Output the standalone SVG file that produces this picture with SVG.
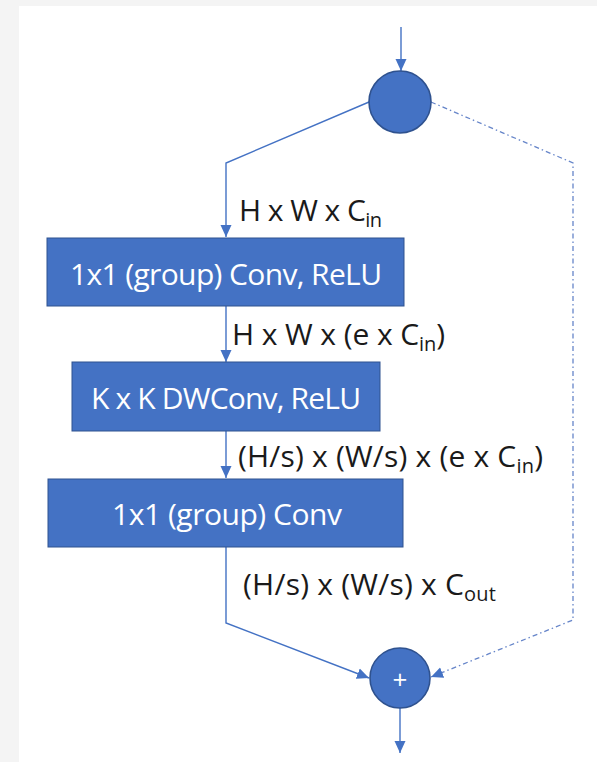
<svg xmlns="http://www.w3.org/2000/svg" width="597" height="762" viewBox="0 0 597 762">
  <style>
    .box { fill: #4472C4; stroke: #2F528F; stroke-width: 1; }
    .node { fill: #4472C4; stroke: #2F528F; stroke-width: 1.6; }
    .btxt { font-family: "Open Sans", "Liberation Sans", sans-serif; font-size: 30px; fill: #ffffff; text-anchor: middle; }
    .lbl { font-family: "Open Sans", "Liberation Sans", sans-serif; font-size: 30px; fill: #1a1a1a; }
    .sub { font-size: 20px; }
    .wire { fill: none; stroke: #4472C4; stroke-width: 1.4; }
    .skip { fill: none; stroke: #6685c9; stroke-width: 1.3; stroke-dasharray: 5 3 1.5 3; }
  </style>
  <defs>
    <marker id="arrow" markerUnits="userSpaceOnUse" markerWidth="13" markerHeight="13" viewBox="0 0 13 13" refX="12" refY="6.5" orient="auto">
      <path d="M0,1 L12,6.5 L0,12 Z" fill="#4472C4"/>
    </marker>
  </defs>

  <!-- canvas -->
  <rect x="0" y="0" width="597" height="762" fill="#f4f4f4"/>
  <rect x="19" y="6" width="578" height="756" fill="#ffffff"/>

  <!-- connectors -->
  <g id="connectors">
    <line class="wire" x1="401" y1="27" x2="401" y2="71" marker-end="url(#arrow)"/>
    <polyline class="wire" points="369,102 226,163 226,237" marker-end="url(#arrow)"/>
    <line class="wire" x1="226" y1="306" x2="226" y2="362" marker-end="url(#arrow)"/>
    <line class="wire" x1="226" y1="431" x2="226" y2="478" marker-end="url(#arrow)"/>
    <polyline class="wire" points="226,547 226,623 369,678" marker-end="url(#arrow)"/>
    <polyline class="skip" points="431,102 573,163 573,620 431,677" marker-end="url(#arrow)"/>
    <line class="wire" x1="400" y1="708" x2="400" y2="753" marker-end="url(#arrow)"/>
  </g>

  <!-- tensor shape labels -->
  <g id="labels">
    <text class="lbl" x="239" y="221" textLength="143">H x W x C<tspan class="sub" dy="6">in</tspan></text>
    <text class="lbl" x="232" y="345" textLength="213">H x W x (e x C<tspan class="sub" dy="6">in</tspan><tspan dy="-6">)</tspan></text>
    <text class="lbl" x="238" y="467" textLength="305">(H/s) x (W/s) x (e x C<tspan class="sub" dy="6">in</tspan><tspan dy="-6">)</tspan></text>
    <text class="lbl" x="243" y="595" textLength="253">(H/s) x (W/s) x C<tspan class="sub" dy="6">out</tspan></text>
  </g>

  <g id="split">
    <circle class="node" cx="400" cy="102" r="31"/>
  </g>

  <g id="expand">
    <rect class="box" x="47" y="238" width="357" height="68"/>
    <text class="btxt" x="226" y="285" textLength="312">1x1 (group) Conv, ReLU</text>
  </g>

  <g id="depthwise">
    <rect class="box" x="72" y="362" width="308" height="69"/>
    <text class="btxt" x="226" y="409" textLength="270">K x K DWConv, ReLU</text>
  </g>

  <g id="project">
    <rect class="box" x="48" y="479" width="355" height="68"/>
    <text class="btxt" x="227" y="525" textLength="230">1x1 (group) Conv</text>
  </g>

  <g id="add">
    <circle class="node" cx="400" cy="678" r="30"/>
    <text x="400" y="689" font-family="'Open Sans', 'Liberation Sans', sans-serif" font-size="26" fill="#ffffff" text-anchor="middle">+</text>
  </g>
</svg>
